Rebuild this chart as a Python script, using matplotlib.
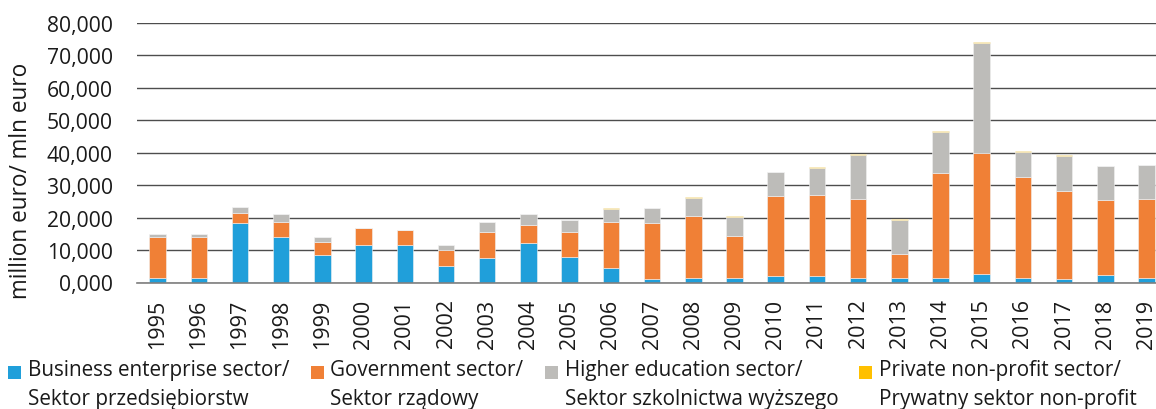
import matplotlib
matplotlib.use("Agg")
import matplotlib.pyplot as plt
from matplotlib.patches import Rectangle
import numpy as np

plt.rcParams['font.family'] = ['Open Sans', 'DejaVu Sans']

years = [str(y) for y in range(1995, 2020)]

# R&D expenditure by sector of performance, million euro
business = [1500, 1500, 18400, 14100, 8600, 11700, 11600, 5100, 7500, 12300,
            8000, 4600, 1200, 1500, 1300, 2100, 1900, 1500, 1300, 1500,
            2500, 1300, 1100, 2200, 1400]
government = [12400, 12500, 3100, 4700, 3900, 5100, 4500, 4800, 8200, 5500,
              7600, 14100, 17200, 19100, 13100, 24600, 25100, 24300, 7600, 32300,
              37300, 31300, 27200, 23300, 24400]
higher_edu = [1000, 900, 1800, 2400, 1400, 0, 0, 1800, 3000, 3400,
              3600, 4000, 4500, 5500, 5900, 7300, 8400, 13600, 10400, 12600,
              33900, 7700, 10800, 10500, 10400]
private_np = [0, 0, 0, 0, 0, 0, 0, 0, 0, 0,
              0, 200, 150, 200, 200, 50, 300, 200, 200, 200,
              300, 200, 200, 50, 50]

series = [business, government, higher_edu, private_np]
colors = ['#209FDA', '#F08036', '#BDBCB9', '#FFC000']
labels = ['Business enterprise sector/\nSektor przedsiębiorstw',
          'Government sector/\nSektor rządowy',
          'Higher education sector/\nSektor szkolnictwa wyższego',
          'Private non-profit sector/\nPrywatny sektor non-profit']

yticks = [0, 10000, 20000, 30000, 40000, 50000, 60000, 70000, 80000]
ytick_labels = ['0,000', '10,000', '20,000', '30,000', '40,000',
                '50,000', '60,000', '70,000', '80,000']

W, H = 1156, 410
PX = 72 / 100  # points per pixel at 100 dpi
fig = plt.figure(figsize=(W / 100, H / 100), dpi=100)
ax = fig.add_axes([137 / W, (H - 283.5) / H, (W - 137) / W, (283.5 - 24) / H])

x = np.arange(len(years))
bottom = np.zeros(len(years))
for vals, col in zip(series, colors):
    v = np.array(vals, dtype=float)
    ax.bar(x, v, width=0.4, bottom=bottom, color=col,
           edgecolor='#f2f2f2', linewidth=0.4, zorder=3)
    bottom += v

ax.set_xlim(-0.5, 24.23)
ax.set_ylim(0, 80000)
ax.set_yticks(yticks)
ax.set_yticklabels(ytick_labels, fontsize=15.2, color='#1a1a1a')
ax.set_xticks(x)
ax.set_xticklabels(years, rotation=90, fontsize=15.5, color='#1a1a1a')
ax.tick_params(axis='y', length=0, pad=24 * PX)
ax.tick_params(axis='x', length=0, pad=16 * PX)
for lbl in ax.get_xticklabels():
    lbl.set_verticalalignment('top')

ax.grid(axis='y', color='#4d4d4d', linewidth=1.0, zorder=0)
for side in ['top', 'right', 'left']:
    ax.spines[side].set_visible(False)
ax.spines['bottom'].set_color('#7f7f7f')
ax.spines['bottom'].set_linewidth(1.2)
ax.spines['bottom'].set_zorder(4)

fig.text(21 / W, (H - 181) / H, 'million euro/ mln euro', rotation=90,
         fontsize=16.3, color='#1a1a1a', ha='center', va='center')

# legend: square marker aligned to first line, entries flow left to right
fig.canvas.draw()
renderer = fig.canvas.get_renderer()
xpos = 8
for lab, col in zip(labels, colors):
    fig.patches.append(Rectangle((xpos / W, (H - 380) / H), 13 / W, 13 / H,
                                 transform=fig.transFigure, facecolor=col,
                                 edgecolor='none'))
    t = fig.text((xpos + 20) / W, (H - 360) / H, lab, fontsize=14.9,
                 color='#1a1a1a', ha='left', va='top', linespacing=1.48)
    bb = t.get_window_extent(renderer)
    xpos = bb.x1 + 21

fig.savefig('out.png', dpi=100)
